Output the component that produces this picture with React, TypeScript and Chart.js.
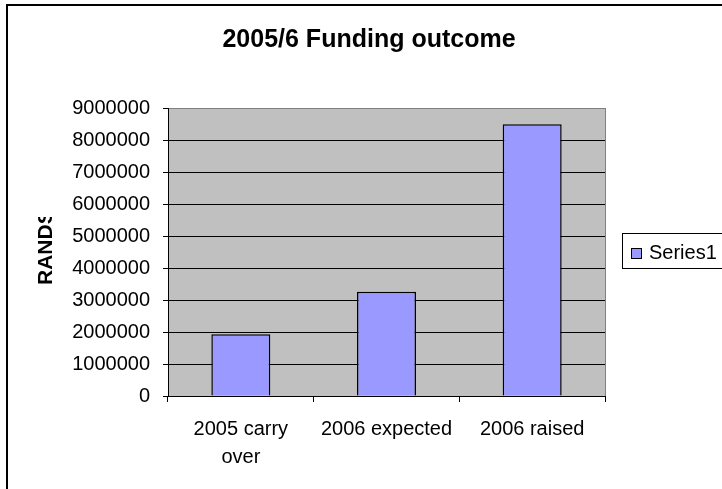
import React, { useEffect, useRef } from "react";
import { Chart, registerables } from "chart.js";

Chart.register(...registerables);

const categories: (string | string[])[] = [["2005 carry", "over"], "2006 expected", "2006 raised"];
const seriesName = "Series1";
const seriesValues = [1930000, 3260000, 8490000];
const titleText = "2005/6 Funding outcome";
const yAxisTitle = "RANDS";
const yMin = 0;
const yMax = 9000000;
const yStep = 1000000;

const FONT = "'Liberation Sans', Arial, sans-serif";
const BAR_COLOR = "#9999FF";

const decorPlugin = {
  id: "decor",
  beforeDraw(chart: any) {
    const { ctx, chartArea } = chart;
    ctx.save();
    ctx.fillStyle = "#ffffff";
    ctx.fillRect(0, 0, chart.width, chart.height);
    // plot area background
    ctx.fillStyle = "#C0C0C0";
    ctx.fillRect(chartArea.left, chartArea.top, chartArea.right - chartArea.left, chartArea.bottom - chartArea.top);
    // gray border right
    ctx.strokeStyle = "#808080";
    ctx.lineWidth = 1;
    ctx.beginPath();
    ctx.moveTo(chartArea.right + 0.5, chartArea.top);
    ctx.lineTo(chartArea.right + 0.5, chartArea.bottom);
    ctx.stroke();
    ctx.restore();
  },
  afterDraw(chart: any) {
    const { ctx } = chart;
    ctx.save();
    // outer border
    ctx.strokeStyle = "#000000";
    ctx.lineWidth = 2;
    ctx.strokeRect(7, 5, chart.width + 20, chart.height + 20);
    // title
    ctx.fillStyle = "#000000";
    ctx.font = `bold 25px ${FONT}`;
    ctx.textAlign = "center";
    ctx.textBaseline = "alphabetic";
    ctx.fillText(titleText, 369, 47);
    // y axis title, clipped at the top like the original
    ctx.save();
    ctx.beginPath();
    ctx.rect(0, 217, 120, 200);
    ctx.clip();
    ctx.translate(52, 285);
    ctx.rotate(-Math.PI / 2);
    ctx.font = `bold 21px ${FONT}`;
    ctx.textAlign = "left";
    ctx.textBaseline = "alphabetic";
    ctx.fillText(yAxisTitle, 0, 0);
    ctx.restore();
    // legend
    ctx.lineWidth = 1;
    ctx.strokeStyle = "#000000";
    ctx.strokeRect(622.5, 233.5, 120, 35);
    ctx.fillStyle = BAR_COLOR;
    ctx.fillRect(631, 248, 11, 11);
    ctx.strokeRect(631.5, 248.5, 10, 10);
    ctx.fillStyle = "#000000";
    ctx.font = `20px ${FONT}`;
    ctx.textAlign = "left";
    ctx.textBaseline = "alphabetic";
    ctx.fillText(seriesName, 649, 259);
    ctx.restore();
  },
};

export default function App() {
  const ref = useRef<HTMLCanvasElement>(null);
  useEffect(() => {
    if (!ref.current) return;
    const chart = new Chart(ref.current, {
      type: "bar",
      data: {
        labels: categories,
        datasets: [
          {
            label: seriesName,
            data: seriesValues,
            backgroundColor: BAR_COLOR,
            borderColor: "#000000",
            borderWidth: 1.5,
            barPercentage: 0.405,
            categoryPercentage: 1,
          },
        ],
      },
      options: {
        responsive: false,
        animation: false,
        devicePixelRatio: 1,
        layout: { padding: { left: 0, top: 108, right: 117, bottom: 0 } },
        plugins: {
          legend: { display: false },
          title: { display: false },
          tooltip: { enabled: false },
        },
        scales: {
          x: {
            afterFit: (s: any) => {
              s.height = 93;
            },
            grid: {
              drawOnChartArea: false,
              drawTicks: true,
              tickLength: 6,
              color: "#000000",
              offset: true,
            },
            border: { color: "#000000", width: 1 },
            ticks: {
              color: "#000000",
              font: { family: FONT, size: 20, lineHeight: 1.4 },
              padding: 13,
              maxRotation: 0,
              autoSkip: false,
            },
          },
          y: {
            min: yMin,
            max: yMax,
            afterFit: (s: any) => {
              s.width = 168;
            },
            grid: {
              color: (c: any) => (c.tick && c.tick.value === yMax ? "#808080" : "#000000"),
              tickColor: "#000000",
              tickLength: 5,
              lineWidth: 1,
            },
            border: { color: "#000000", width: 1 },
            ticks: {
              stepSize: yStep,
              color: "#000000",
              font: { family: FONT, size: 20 },
              padding: 13,
              callback: (v: any) => String(v),
            },
          },
        },
      },
      plugins: [decorPlugin],
    });
    return () => chart.destroy();
  }, []);
  return (
    <div style={{ position: "fixed", left: 0, top: 0, width: 722, height: 489 }}>
      <canvas ref={ref} width={722} height={489} style={{ display: "block" }} />
    </div>
  );
}
